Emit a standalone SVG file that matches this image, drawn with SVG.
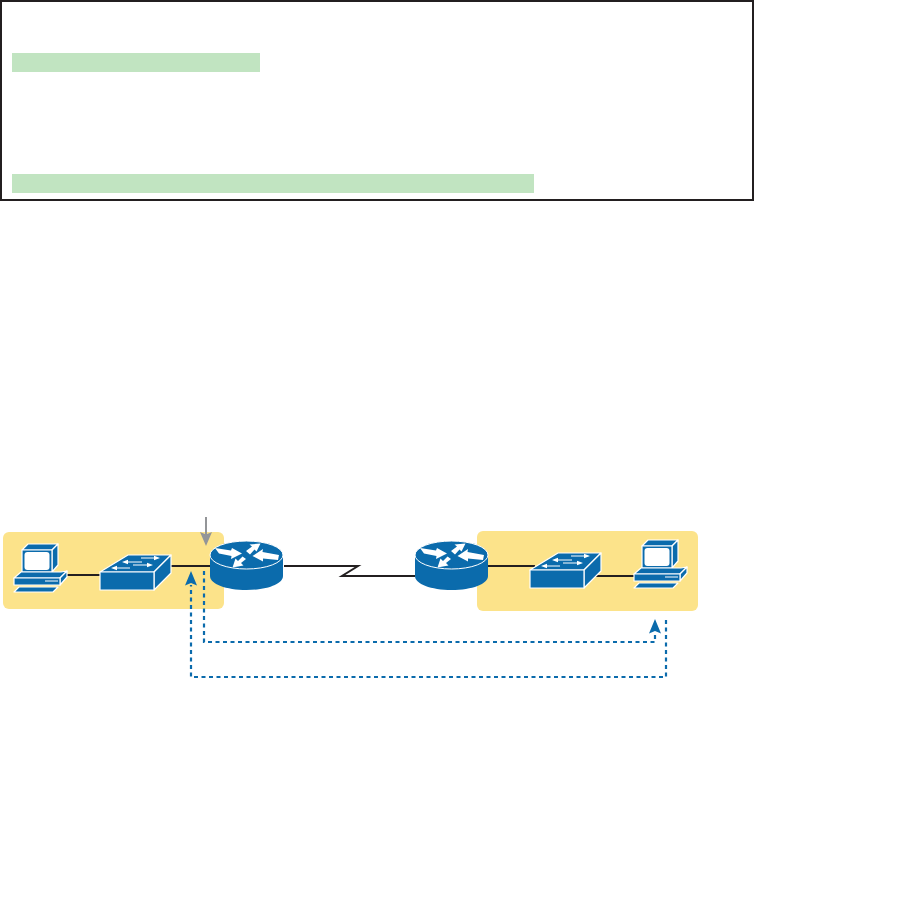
<svg xmlns="http://www.w3.org/2000/svg" width="918" height="906" viewBox="0 0 918 906">
<style>
.blue{fill:#0b6bac;stroke:#fff;stroke-width:1.2;stroke-linejoin:round}
.wfill{fill:#fff;stroke:none}
.panel{fill:#fce38a}
.hl{fill:#c1e4c1}
.link{fill:none;stroke:#231f20;stroke-width:2}
.dash{fill:none;stroke:#0b6bac;stroke-width:2.200;stroke-dasharray:4 3.500}
.sw{stroke:#fff;stroke-width:1;fill:none}
</style>
<defs>
<g id="router-shape">
<path d="M210 555V576C210 584 226 590 246.500 590S283 584 283 576V555Z" fill="#0b6bac"/>
<ellipse cx="246.500" cy="555" rx="36.500" ry="14" fill="#0b6bac" stroke="#fff" stroke-width="1"/>
<path class="wfill" d="M215 548L231 550.500L232 548L242 553.500L231 559L231.500 556L219 553.500Z"/>
<path class="wfill" d="M246 551L252 546.500L249.500 544.500L260.500 543.500L256.500 551.500L254.500 549.500L250 554.500Z"/>
<path class="wfill" d="M279 555L262.500 552L263 549L252.500 556L263 561.500L263 558.500L278 560Z"/>
<path class="wfill" d="M246 559L241 563L243.500 565.500L232.500 567.500L235.500 558.500L238 561L242.500 556.500Z"/>
</g>
<g id="switch-shape">
<path class="blue" d="M100 572L128 555H171L154 572Z"/>
<path class="blue" d="M154 572L171 555V573L154 590Z"/>
<rect class="blue" x="100" y="572" width="54" height="18"/>
<path class="sw" d="M126 562H142M141 558H157M115 568H130M133 565H150"/>
<path class="wfill" d="M122 562L128 559.800V564.200ZM160 558L154 555.800V560.200ZM111 568L117 565.800V570.200ZM153 565L147 562.800V567.200Z"/>
</g>
<g id="pc-shape">
<path class="blue" d="M22 550L28 544H58L52 550Z"/>
<path class="blue" d="M52 550L58 544V565L52 572Z"/>
<rect class="blue" x="22" y="550" width="30" height="22"/>
<rect class="wfill" x="24.500" y="552" width="25" height="18" rx="3"/>
<path class="blue" d="M14 578L21 572H61L67 571L60 578Z"/>
<path class="blue" d="M60 578L67 571V577L60 585Z"/>
<rect class="blue" x="14" y="578" width="46" height="7"/>
<path class="sw" d="M45 581H58"/>
<path class="blue" d="M14 592L19 587H58L53 592Z"/>
</g>
</defs>
<rect width="918" height="906" fill="#fff"/>
<g id="listing">
<rect x="1" y="1" width="752" height="199" fill="#fff" stroke="#231f20" stroke-width="2"/>
<rect class="hl" x="12" y="53" width="248" height="19"/>
<rect class="hl" x="12" y="174" width="522" height="19"/>
</g>
<g id="left-lan"><rect class="panel" x="3" y="532" width="221" height="77" rx="6"/></g>
<g id="right-lan"><rect class="panel" x="477" y="531" width="221" height="80" rx="6"/></g>
<g id="connectors">
<path class="link" d="M67 575H100"/>
<path class="link" d="M171 566H210"/>
<path class="link" d="M284 566H358L342 576H415"/>
<path class="link" d="M488 566H535"/>
<path class="link" d="M596 576H635"/>
<path class="dash" d="M204 571V642H655V633"/>
<path d="M655 619L661 633.500L655 631L649 633.500Z" fill="#0b6bac"/>
<path class="dash" d="M666 620V677H191V585"/>
<path d="M191 571L197 585.500L191 583L185 585.500Z" fill="#0b6bac"/>
<path d="M206 517V536" fill="none" stroke="#939598" stroke-width="2"/>
<path d="M206 546L200 532L206 534.500L212 532Z" fill="#939598"/>
</g>
<g id="pc-left"><use href="#pc-shape"/></g>
<g id="switch-left"><use href="#switch-shape"/></g>
<g id="router-left"><use href="#router-shape"/></g>
<g id="router-right"><use href="#router-shape" transform="translate(205 0)"/></g>
<g id="switch-right"><use href="#switch-shape" transform="translate(430 -2)"/></g>
<g id="pc-right"><use href="#pc-shape" transform="translate(620 -4)"/></g>
</svg>
